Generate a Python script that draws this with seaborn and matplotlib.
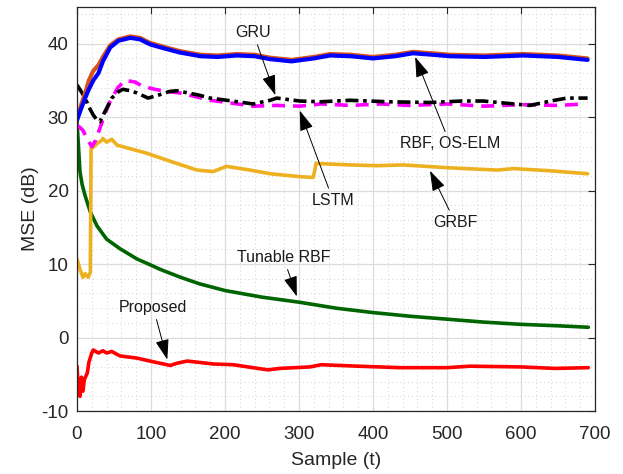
import numpy as np
import pandas as pd
import matplotlib
matplotlib.use("Agg")
import matplotlib.pyplot as plt
import seaborn as sns
from matplotlib.ticker import MultipleLocator

sns.set_style("white")
plt.rcParams['font.family'] = ['Liberation Sans', 'DejaVu Sans']
plt.rcParams['axes.unicode_minus'] = False

# ---------------- data ----------------
rbf_x = [0, 5, 11, 16, 22, 29, 35, 45, 56, 72, 85, 99, 120, 139, 167, 190, 216, 240, 261,
         290, 320, 342, 370, 400, 430, 454, 480, 504, 550, 603, 650, 690]
rbf_y = [29.7, 31.5, 33.3, 35.0, 36.3, 37.1, 38.2, 39.8, 40.6, 41.0, 40.8, 40.1, 39.5, 39.0,
         38.5, 38.4, 38.6, 38.5, 38.1, 37.8, 38.2, 38.6, 38.5, 38.2, 38.5, 38.9, 38.7, 38.5,
         38.4, 38.6, 38.4, 38.0]

oselm_x = [0, 5, 11, 16, 22, 29, 35, 45, 56, 72, 85, 99, 120, 139, 167, 190, 216, 240, 261,
           290, 320, 342, 370, 400, 430, 454, 480, 504, 550, 603, 650, 690]
oselm_y = [29.6, 31.0, 32.6, 33.8, 35.0, 36.0, 37.6, 39.5, 40.4, 40.8, 40.6, 39.9, 39.3, 38.8,
           38.3, 38.2, 38.4, 38.3, 37.9, 37.6, 38.0, 38.4, 38.3, 38.0, 38.3, 38.7, 38.5, 38.3,
           38.2, 38.4, 38.2, 37.8]

lstm_x = [0, 4, 8, 14, 20, 25, 31, 38, 45, 55, 65, 78, 89, 105, 121, 139, 160, 180, 210, 238,
          270, 301, 330, 370, 410, 450, 500, 550, 600, 650, 686]
lstm_y = [28.9, 28.6, 28.2, 27.0, 26.0, 26.8, 28.5, 30.5, 32.2, 34.0, 35.0, 34.8, 34.2, 33.8,
          33.5, 33.3, 32.8, 32.3, 31.9, 31.5, 31.6, 31.5, 31.8, 31.6, 31.8, 31.6, 31.8, 31.5,
          31.7, 31.6, 31.8]

gru_x = [0, 5, 11, 16, 22, 27, 31, 38, 47, 55, 62, 72, 81, 96, 110, 125, 135, 150, 165, 180,
         210, 238, 261, 270, 301, 330, 369, 420, 477, 520, 549, 580, 612, 640, 662, 690]
gru_y = [34.4, 33.6, 32.6, 31.4, 30.3, 29.6, 29.4, 30.8, 32.6, 33.4, 33.8, 33.6, 33.3, 32.6,
         33.0, 33.5, 33.6, 33.3, 33.0, 32.6, 32.2, 31.8, 32.3, 32.6, 32.2, 32.1, 32.3, 32.1,
         32.0, 32.2, 32.2, 31.9, 31.6, 32.2, 32.6, 32.6]

grbf_x = [0, 4, 8, 11, 15, 18, 19, 22, 27, 33, 35, 40, 47, 54, 72, 94, 126, 162, 184, 202,
          234, 261, 301, 319, 321, 323, 369, 405, 441, 504, 568, 590, 640, 690]
grbf_y = [10.7, 9.3, 8.2, 8.7, 8.2, 8.9, 25.7, 25.9, 26.4, 26.8, 27.1, 26.6, 27.0, 26.2, 25.7,
          25.1, 24.0, 22.8, 22.6, 23.3, 22.8, 22.3, 21.9, 21.8, 22.6, 23.7, 23.5, 23.4, 23.5,
          23.1, 22.8, 23.0, 22.7, 22.3]

trbf_x = [0, 2, 4, 7, 11, 18, 27, 40, 58, 81, 99, 112, 140, 166, 200, 250, 301, 350, 400, 450,
          500, 550, 599, 650, 691]
trbf_y = [29.4, 26.0, 22.6, 20.8, 19.3, 17.1, 15.2, 13.4, 12.1, 10.7, 9.9, 9.3, 8.2, 7.3, 6.4,
          5.5, 4.8, 4.0, 3.4, 2.9, 2.5, 2.1, 1.8, 1.6, 1.4]

prop_x = [0, 1, 4, 6, 8, 10, 14, 16, 20, 22, 29, 35, 40, 47, 58, 81, 103, 126, 135, 149, 184,
          211, 258, 274, 315, 330, 380, 436, 500, 531, 600, 646, 691]
prop_y = [-3.9, -5.7, -8.0, -5.4, -7.3, -5.7, -4.8, -3.4, -2.1, -1.7, -2.1, -1.8, -2.1, -1.9,
          -2.5, -2.8, -3.3, -3.8, -3.5, -3.2, -3.6, -3.7, -4.4, -4.2, -4.0, -3.7, -3.9, -4.1,
          -4.1, -3.9, -4.0, -4.2, -4.1]

# ---------------- figure ----------------
fig = plt.figure(figsize=(6.23, 4.74), dpi=100)
ax = fig.add_axes([77 / 623, (474 - 411) / 474, (595 - 77) / 623, (411 - 7) / 474])

kw = dict(ax=ax, estimator=None, sort=False)
sns.lineplot(x=trbf_x, y=trbf_y, color='#006400', lw=2.6, **kw)
sns.lineplot(x=grbf_x, y=grbf_y, color='#EDB120', lw=2.6, **kw)
sns.lineplot(x=prop_x, y=prop_y, color='#FF0000', lw=2.6, **kw)
sns.lineplot(x=lstm_x, y=lstm_y, color='#FF00FF', lw=2.6, **kw)
ax.lines[-1].set_linestyle((0, (3.6, 2.2)))
sns.lineplot(x=gru_x, y=gru_y, color='black', lw=2.6, **kw)
ax.lines[-1].set_linestyle((0, (3.6, 1.3, 1.0, 1.3)))
sns.lineplot(x=rbf_x, y=rbf_y, color='#D95319', lw=3.0, **kw)
sns.lineplot(x=oselm_x, y=oselm_y, color='#0000FF', lw=3.0, **kw)

ax.set_xlim(0, 700)
ax.set_ylim(-10, 45)
ax.xaxis.set_major_locator(MultipleLocator(100))
ax.yaxis.set_major_locator(MultipleLocator(10))
ax.xaxis.set_minor_locator(MultipleLocator(20))
ax.yaxis.set_minor_locator(MultipleLocator(2))
ax.grid(True, which='major', color='#dcdcdc', lw=0.9, ls='-')
ax.grid(True, which='minor', color='#d2d2d2', lw=0.7, ls=(0, (1, 3)))
ax.set_axisbelow(True)
ax.tick_params(which='major', direction='in', length=5, width=0.8, top=True, right=True,
               labelsize=13.5, colors='#262626')
ax.tick_params(axis='x', which='major', pad=11)
ax.tick_params(axis='y', which='major', pad=6)
ax.tick_params(which='minor', length=0)
for s in ax.spines.values():
    s.set_color('#262626')
    s.set_linewidth(0.9)
ax.set_xlabel('Sample (t)', fontsize=14, color='#262626', labelpad=6)
ax.set_ylabel('MSE (dB)', fontsize=14, color='#262626', labelpad=2)

arrow = dict(arrowstyle='-|>,head_length=0.9,head_width=0.3', color='black', lw=0.7,
             shrinkA=1, shrinkB=0, mutation_scale=14)
ann = [
    ('GRU', (268, 33.0), (238, 41.5)),
    ('RBF, OS-ELM', (457, 38.2), (504, 26.4)),
    ('LSTM', (301, 30.9), (346, 18.7)),
    ('GRBF', (477, 22.7), (511, 15.7)),
    ('Tunable RBF', (297, 5.6), (279, 10.9)),
    ('Proposed', (122, -3.0), (103, 4.1)),
]
for txt, xy, xyt in ann:
    ax.annotate(txt, xy=xy, xytext=xyt, fontsize=11.5, ha='center', va='center',
                color='#1a1a1a', arrowprops=arrow)

fig.savefig('out.png', dpi=100)
